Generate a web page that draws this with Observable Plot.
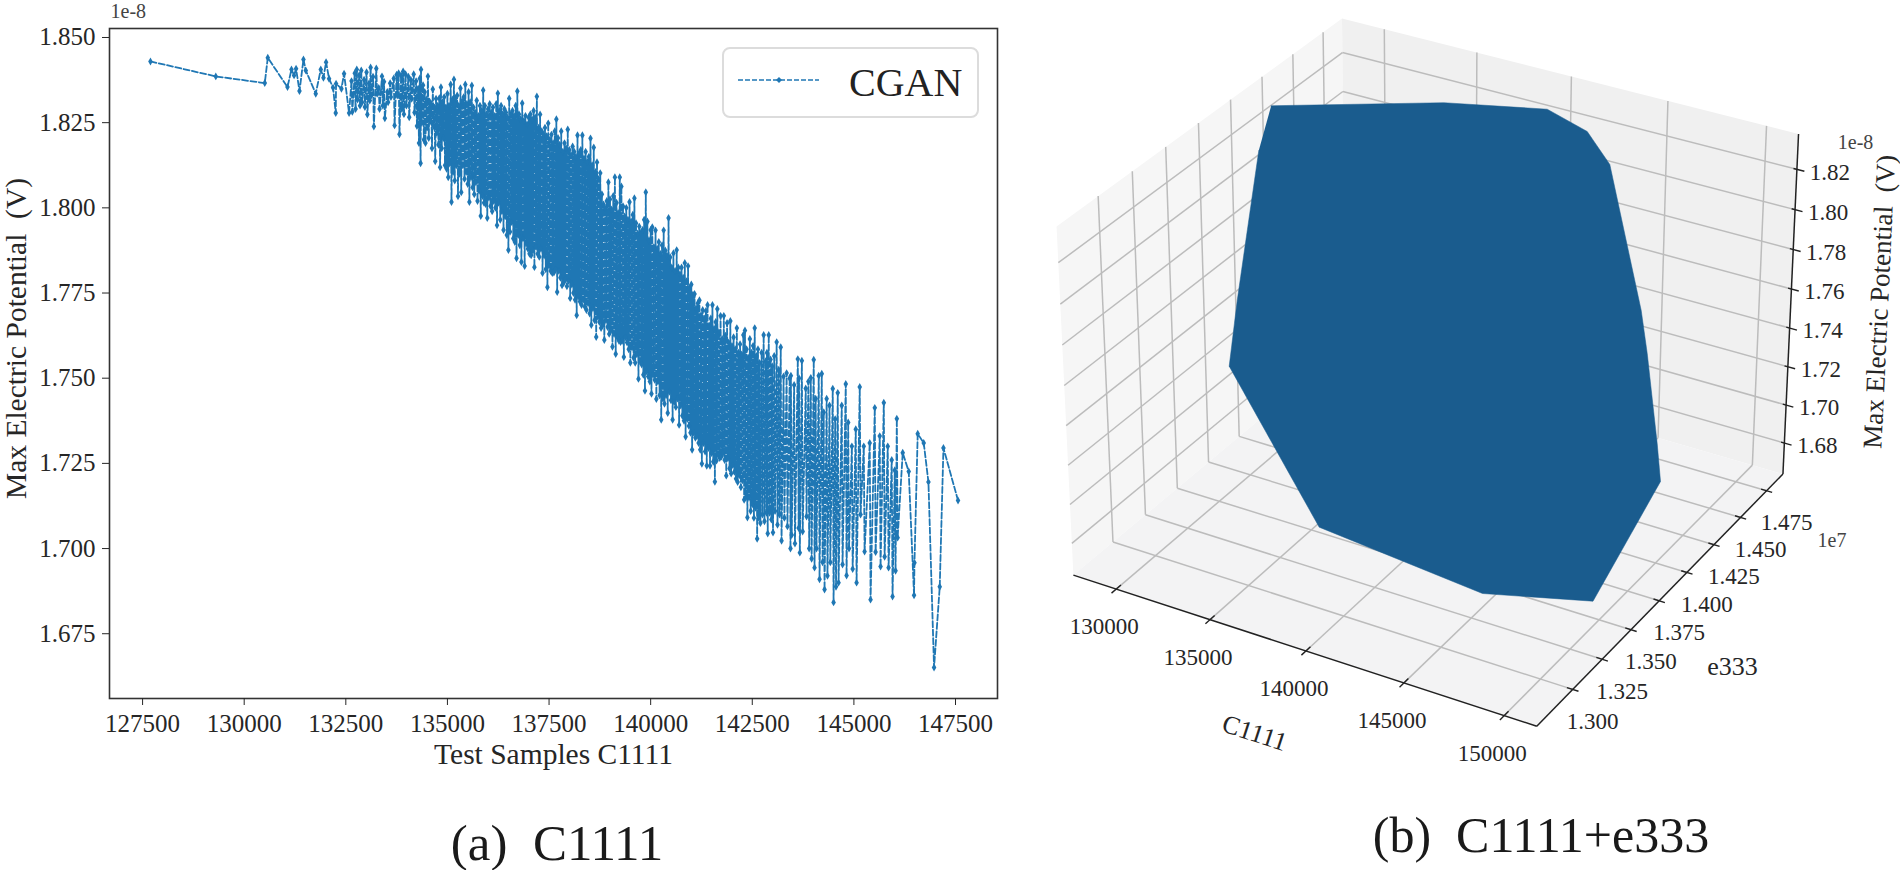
<!DOCTYPE html>
<html>
<head>
<meta charset="utf-8">
<script src="https://cdn.jsdelivr.net/npm/d3@7"></script>
<script src="https://cdn.jsdelivr.net/npm/@observablehq/plot@0.6"></script>
<style>
html,body{margin:0;padding:0;background:#fff;overflow:hidden}
#page{position:relative;width:1900px;height:870px;font-family:"Liberation Serif",serif;color:#1a1a1a}
.cap{position:absolute;transform:translate(-50%,-50%);white-space:pre;line-height:1}
#legend{position:absolute;left:722px;top:47px;width:253px;height:67px;border:2px solid #dcdcdc;border-radius:8px;background:#fff}
#legend svg{position:absolute;left:13px;top:24px}
#legend span{position:absolute;left:125px;top:9px;font-size:40px;line-height:1.25;color:#222}
</style>
</head>
<body>
<div id="page">
  <div id="legend"><svg width="84" height="14"><line x1="1" x2="82" y1="7" y2="7" stroke="#1f77b4" stroke-width="1.6" stroke-dasharray="5,2"/><path d="M39 7l3-3 3 3-3 3z" fill="#1f77b4"/></svg><span>CGAN</span></div>
  <div class="cap" style="left:557px;top:843px;font-size:51px">(a)  C1111</div>
  <div class="cap" style="left:1541px;top:835px;font-size:50px">(b)  C1111+e333</div>
</div>
<script>
// Panel (a): readings of the CGAN trace
const leadC = [127694,129301,130506,130580,131065,131163,131227,131276,131360,131458,131515,131760,131884,131950,132014,132088,132186,132252,132260,132392,132457,132580];
const leadV = [1.84297,1.83858,1.83662,1.84406,1.83545,1.84063,1.83887,1.84083,1.83428,1.84356,1.84034,1.83351,1.84063,1.8382,1.84277,1.83791,1.83527,1.82783,1.83644,1.83498,1.83937,1.82783];

const spikeC = [
132640,132720,132770,132830,132880,132950,133010,133070,133110,133170,
133250,133310,133390,133440,133520,133590,133680,133750,133800,133860,
133910,133970,134040,134100,134170,134230,134280,134320,134350,134400,
134440,134480,134520,134560,134600,134640,134680,134720,134760,134800,
134840,134880,134920,134960,135000,135040,135080,135120,135160,135200,
135240,135280,135320,135360,135400,135440,135480,135520,135560,135600,
135640,135680,135720,135760,135800,135840,135880,135920,135960,136000,
136040,136080,136120,136160,136200,136240,136280,136320,136360,136400,
136440,136480,136520,136560,136600,136640,136680,136720,136760,136800,
136840,136880,136920,136960,137000,137040,137080,137120,137160,137200,
137240,137280,137320,137360,137400,137440,137480,137520,137560,137600,
137640,137680,137720,137760,137800,137840,137880,137920,137960,138000,
138040,138080,138120,138160,138200,138240,138280,138320,138360,138400,
138440,138480,138520,138560,138600,138640,138680,138720,138760,138800,
138840,138880,138920,138960,139000,139040,139080,139120,139160,139200,
139240,139280,139320,139360,139400,139440,139480,139520,139560,139600,
139640,139680,139720,139760,139800,139840,139880,139920,139960,140000,
140040,140080,140120,140160,140200,140240,140280,140320,140360,140400,
140440,140480,140520,140560,140600,140640,140680,140720,140760,140800,
140840,140880,140920,140960,141000,141040,141080,141120,141160,141200,
141240,141280,141320,141360,141400,141440,141480,141520,141560,141600,
141640,141680,141720,141760,141800,141840,141880,141920,141960,142000,
142040,142080,142120,142160,142200,142240,142280,142320,142360,142400,
142440,142480,142520,142560,142600,142640,142680,142730,142780,142830,
142860,142905,142950,142990,143040,143100,143150,143200,143270,143345,
143420,143450,143530,143620,143650,143720,143815,143880,143940,144012,
144060,144135,144210,144258,144330,144400,144480,144540,144603,144701,
144800,144860,144950,145046,145144,145243,145390,145514,145636,145736,
145833,145931,146005,146056];

const spikeHigh = [
1.8372,1.8395,1.8406,1.8389,1.8403,1.8376,1.8398,1.8365,1.8412,1.8385,
1.8409,1.8352,1.8386,1.8370,1.8340,1.8366,1.8380,1.8391,1.8395,1.8388,
1.8400,1.8392,1.8385,1.8375,1.8392,1.8372,1.8350,1.8380,1.8406,1.8360,
1.8340,1.8318,1.8386,1.8312,1.8305,1.8348,1.8295,1.8320,1.8300,1.8322,
1.8354,1.8310,1.8325,1.8295,1.8335,1.8300,1.8362,1.8318,1.8377,1.8322,
1.8330,1.8300,1.8351,1.8312,1.8325,1.8362,1.8305,1.8340,1.8310,1.8359,
1.8295,1.8280,1.8315,1.8270,1.8300,1.8285,1.8345,1.8300,1.8275,1.8290,
1.8305,1.8280,1.8295,1.8270,1.8305,1.8336,1.8285,1.8300,1.8275,1.8290,
1.8280,1.8265,1.8321,1.8275,1.8285,1.8270,1.8300,1.8342,1.8275,1.8260,
1.8307,1.8255,1.8270,1.8245,1.8265,1.8275,1.8260,1.8285,1.8265,1.8327,
1.8235,1.8274,1.8225,1.8215,1.8235,1.8210,1.8248,1.8200,1.8215,1.8190,
1.8225,1.8260,1.8205,1.8185,1.8225,1.8165,1.8190,1.8175,1.8230,1.8170,
1.8155,1.8180,1.8165,1.8150,1.8213,1.8160,1.8170,1.8213,1.8145,1.8165,
1.8135,1.8150,1.8204,1.8125,1.8177,1.8105,1.8134,1.8085,1.8102,1.8040,
1.8010,1.7999,1.8020,1.8075,1.8025,1.7995,1.8035,1.8090,1.8015,1.7985,
1.8090,1.8063,1.8005,1.7975,1.8000,1.7965,1.8017,1.7960,1.7980,1.8028,
1.7955,1.7925,1.7945,1.7926,1.7935,1.7965,1.8046,1.7960,1.7905,1.7935,
1.7943,1.7885,1.7934,1.7880,1.7900,1.7865,1.7890,1.7934,1.7875,1.7860,
1.7970,1.7855,1.7825,1.7867,1.7815,1.7876,1.7825,1.7805,1.7825,1.7795,
1.7838,1.7785,1.7829,1.7765,1.7775,1.7745,1.7747,1.7705,1.7720,1.7729,
1.7685,1.7700,1.7675,1.7697,1.7715,1.7655,1.7675,1.7715,1.7645,1.7665,
1.7703,1.7635,1.7683,1.7615,1.7683,1.7625,1.7662,1.7605,1.7668,1.7595,
1.7620,1.7585,1.7647,1.7575,1.7600,1.7570,1.7627,1.7640,1.7585,1.7560,
1.7615,1.7575,1.7595,1.7647,1.7565,1.7585,1.7545,1.7575,1.7627,1.7550,
1.7575,1.7627,1.7555,1.7535,1.7565,1.7606,1.7525,1.7591,1.7505,1.7515,
1.7500,1.7507,1.7480,1.7556,1.7500,1.7551,1.7470,1.7490,1.7501,1.7554,
1.7440,1.7507,1.7513,1.7400,1.7440,1.7420,1.7469,1.7380,1.7457,1.7420,
1.7483,1.7370,1.7300,1.7350,1.7474,1.7300,1.7310,1.7413,1.7330,1.7428,
1.7300,1.7260,1.7230,1.7381];

const spikeLow = [
1.8282,1.8290,1.8318,1.8300,1.8310,1.8296,1.8274,1.8315,1.8330,1.8239,
1.8335,1.8290,1.8300,1.8263,1.8310,1.8325,1.8242,1.8330,1.8216,1.8290,
1.8275,1.8300,1.8266,1.8320,1.8280,1.8240,1.8190,1.8131,1.8250,1.8200,
1.8190,1.8235,1.8205,1.8255,1.8175,1.8240,1.8137,1.8220,1.8185,1.8119,
1.8175,1.8205,1.8125,1.8115,1.8090,1.8130,1.8017,1.8105,1.8080,1.8125,
1.8034,1.8100,1.8046,1.8125,1.8085,1.8105,1.8070,1.8017,1.8090,1.8060,
1.8040,1.8075,1.8020,1.8050,1.7976,1.8035,1.8015,1.8011,1.7970,1.8030,
1.8005,1.7990,1.8020,1.8000,1.7949,1.8015,1.7965,1.7990,1.7935,1.7975,
1.7920,1.7876,1.7930,1.7958,1.7910,1.7900,1.7852,1.7920,1.7890,1.7841,
1.7910,1.7829,1.7895,1.7880,1.7865,1.7861,1.7875,1.7826,1.7885,1.7865,
1.7856,1.7880,1.7809,1.7860,1.7820,1.7767,1.7830,1.7815,1.7809,1.7810,
1.7820,1.7753,1.7815,1.7795,1.7773,1.7780,1.7790,1.7770,1.7785,1.7735,
1.7775,1.7750,1.7730,1.7685,1.7740,1.7725,1.7715,1.7730,1.7710,1.7700,
1.7720,1.7690,1.7656,1.7705,1.7670,1.7621,1.7680,1.7665,1.7647,1.7655,
1.7612,1.7670,1.7650,1.7630,1.7640,1.7592,1.7630,1.7571,1.7620,1.7610,
1.7606,1.7610,1.7562,1.7620,1.7605,1.7585,1.7545,1.7590,1.7560,1.7545,
1.7570,1.7498,1.7550,1.7540,1.7510,1.7463,1.7520,1.7505,1.7490,1.7454,
1.7510,1.7495,1.7439,1.7490,1.7450,1.7378,1.7440,1.7425,1.7450,1.7398,
1.7460,1.7435,1.7378,1.7430,1.7415,1.7440,1.7363,1.7420,1.7390,1.7375,
1.7328,1.7380,1.7360,1.7340,1.7290,1.7340,1.7325,1.7330,1.7310,1.7290,
1.7249,1.7310,1.7285,1.7243,1.7295,1.7243,1.7280,1.7255,1.7196,1.7258,
1.7275,1.7266,1.7270,1.7280,1.7260,1.7214,1.7265,1.7235,1.7220,1.7245,
1.7225,1.7205,1.7195,1.7215,1.7180,1.7200,1.7143,1.7150,1.7091,1.7150,
1.7110,1.7130,1.7090,1.7120,1.7029,1.7090,1.7075,1.7100,1.7080,1.7105,
1.7044,1.7105,1.7085,1.7047,1.7110,1.7070,1.7100,1.7023,1.7090,1.7065,
1.7000,1.7040,1.7015,1.7060,1.6988,1.7050,1.7094,1.7000,1.6970,1.6944,
1.7000,1.6910,1.6960,1.6880,1.6920,1.6960,1.6842,1.6888,1.6900,1.6953,
1.6921,1.7000,1.6940,1.6900,1.7100,1.6991,1.6850,1.6990,1.6947,1.6976,
1.6944,1.6859,1.6935,1.7032];

const tailC = [146201,146349,146480,146490,146570,146718,146834,146972,147112,147203,147562];
const tailV = [1.7281,1.7226,1.6863,1.6958,1.7337,1.7310,1.7195,1.6651,1.6888,1.7295,1.7141];

const xTicksA = [127500,130000,132500,135000,137500,140000,142500,145000,147500];
const yTicksA = [1.850,1.825,1.800,1.775,1.750,1.725,1.700,1.675];

// Panel (b): axes of the 3-D view
const c1111Ticks = [130000,135000,140000,145000,150000];
const e333Ticks = [1.300,1.325,1.350,1.375,1.400,1.425,1.450,1.475];
const potentialTicks = [1.68,1.70,1.72,1.74,1.76,1.78,1.80,1.82];
// surface silhouette as seen in the view plane
const surfaceViewX = [-.03667,.00204,.02523,.03420,.03927,.04631,.04766,.04990,.05064,.03550,.01072,-.02590,-.04609,-.04429,-.03945];
const surfaceViewY = [.05606,.05675,.05529,.05028,.04287,.01007,.00040,-.01988,-.02835,-.05525,-.05352,-.03862,-.00245,.01231,.04601];

const serif = "Liberation Serif";
const ink = "#262626";
const blue = "#1f77b4";

// build the trace
const trace = [];
leadC.forEach((c,i)=>trace.push({c,v:leadV[i]}));
spikeC.forEach((c,i)=>{trace.push({c,v:spikeHigh[i]});trace.push({c:c+20,v:spikeLow[i]});});
tailC.forEach((c,i)=>trace.push({c,v:tailV[i]}));

const W_A = 1030, H = 870;
const plotA = Plot.plot({
  width:W_A,height:H,
  marginLeft:109,marginRight:W_A-997,marginTop:28,marginBottom:H-698,
  x:{domain:[126686,148533]},
  y:{domain:[1.65599,1.85264]},
  style:{background:"transparent",fontFamily:serif},
  marks:[
    Plot.frame({stroke:"#333",strokeWidth:1.6}),
    Plot.line(trace,{x:"c",y:"v",z:null,stroke:blue,strokeWidth:1.8,strokeDasharray:"6,2.5"}),
    Plot.dot(trace,{x:"c",y:"v",r:2.4,symbol:"diamond",fill:blue,stroke:"none"}),
    Plot.axisX(xTicksA,{anchor:"bottom",tickSize:7,tickPadding:9,fontSize:25,label:null,tickFormat:d=>String(d),fill:ink,stroke:ink}),
    Plot.axisY(yTicksA,{anchor:"left",tickSize:7,tickPadding:7,fontSize:25,label:null,tickFormat:d=>d.toFixed(3),fill:ink,stroke:ink}),
    Plot.text(["Test Samples C1111"],{frameAnchor:"bottom",lineAnchor:"middle",dy:56,fontSize:29.5,fill:ink}),
    Plot.text(["Max Electric Potential \u00a0(V)"],{frameAnchor:"left",textAnchor:"middle",lineAnchor:"middle",dx:-93,dy:-25,rotate:-90,fontSize:29.5,fill:ink}),
    Plot.text(["1e-8"],{frameAnchor:"top-left",lineAnchor:"middle",dy:-17,dx:1,textAnchor:"start",fontSize:20,fill:"#444"})
  ]
});
plotA.style.cssText+=";position:absolute;left:0;top:0;background:transparent";

// ---- 3-D view (elevation 30, azimuth -60, distance 10) ----
const domC=[127680,151600], domE=[1.2702,1.4909], domV=[1.6635,1.8374];
const boxXY=1.1905, boxZ=.8929, dist=10;
const el=30*Math.PI/180, az=-60*Math.PI/180;
const w=[Math.cos(el)*Math.cos(az),Math.cos(el)*Math.sin(az),Math.sin(el)];
const uN=Math.hypot(w[1],w[0]);
const u=[-w[1]/uN,w[0]/uN,0];
const v=[w[1]*u[2]-w[2]*u[1],w[2]*u[0]-w[0]*u[2],w[0]*u[1]-w[1]*u[0]];
const dot3=(p,q)=>p[0]*q[0]+p[1]*q[1]+p[2]*q[2];
function view(c,e,p){
  const r=[((c-domC[0])/(domC[1]-domC[0])-.5)*boxXY,((e-domE[0])/(domE[1]-domE[0])-.5)*boxXY,((p-domV[0])/(domV[1]-domV[0])-.5)*boxZ];
  const den=dist-dot3(w,r);
  return [dot3(u,r)/den,dot3(v,r)/den];
}
const seg=(a,b,extra={})=>{const A=view(...a),B=view(...b);return {x1:A[0],y1:A[1],x2:B[0],y2:B[1],...extra};};
const poly=(pts)=>pts.map(p=>{const q=view(...p);return {x:q[0],y:q[1]};});
const [C0,C1]=domC,[E0,E1]=domE,[V0,V1]=domV;

const paneLeft=poly([[C0,E0,V0],[C0,E0,V1],[C0,E1,V1],[C0,E1,V0]]);
const paneBack=poly([[C0,E1,V0],[C0,E1,V1],[C1,E1,V1],[C1,E1,V0]]);
const paneFloor=poly([[C0,E0,V0],[C1,E0,V0],[C1,E1,V0],[C0,E1,V0]]);

const grid=[];
c1111Ticks.forEach(t=>{grid.push(seg([t,E0,V0],[t,E1,V0]));grid.push(seg([t,E1,V0],[t,E1,V1]));});
e333Ticks.forEach(t=>{grid.push(seg([C0,t,V0],[C1,t,V0]));grid.push(seg([C0,t,V0],[C0,t,V1]));});
potentialTicks.forEach(t=>{grid.push(seg([C0,E0,t],[C0,E1,t]));grid.push(seg([C0,E1,t],[C1,E1,t]));});

const spines=[seg([C0,E0,V0],[C1,E0,V0]),seg([C1,E0,V0],[C1,E1,V0]),seg([C1,E1,V0],[C1,E1,V1])];
const dE=(E1-E0)*.016, dC=(C1-C0)*.012;
const tickMarks=[
  ...c1111Ticks.map(t=>seg([t,E0-dE,V0],[t,E0+dE,V0])),
  ...e333Ticks.map(t=>seg([C1-dC,t,V0],[C1+dC,t,V0])),
  ...potentialTicks.map(t=>seg([C1-dC*.6,E1,t],[C1+dC*1.3,E1,t]))
];
const labelC=c1111Ticks.map(t=>{const q=view(t,E0,V0);return {x:q[0],y:q[1],t:String(t)};});
const labelE=e333Ticks.map(t=>{const q=view(C1,t,V0);return {x:q[0],y:q[1],t:t.toFixed(3)};});
const labelV=potentialTicks.map(t=>{const q=view(C1,E1,t);return {x:q[0],y:q[1],t:t.toFixed(2)};});
const surface=surfaceViewX.map((x,i)=>({x,y:surfaceViewY[i]}));

// anchors for the axis names, in C1111/e333/V terms
const anchorC=view(C0+(C1-C0)*.43,E0,V0);
const anchorE=view(C1,E0+(E1-E0)*.4,V0);
const anchorExp=view(C1,E1,V0);
const anchorTop=view(C1,E1,V1);
const anchorMid=view(C1,E1,V0+(V1-V0)*.5);

const W_B=870;
const plotB=Plot.plot({
  width:W_B,height:H,margin:0,
  x:{axis:null,domain:[-.09065,.10446],range:[0,W_B]},
  y:{axis:null,domain:[.07971,-.11575],range:[0,H]},
  style:{background:"transparent",fontFamily:serif},
  marks:[
    Plot.line(paneLeft,{x:"x",y:"y",z:null,fill:"#f6f6f6",stroke:"none"}),
    Plot.line(paneBack,{x:"x",y:"y",z:null,fill:"#f0f0f0",stroke:"none"}),
    Plot.line(paneFloor,{x:"x",y:"y",z:null,fill:"#f3f3f4",stroke:"none"}),
    Plot.link(grid,{x1:"x1",y1:"y1",x2:"x2",y2:"y2",stroke:"#bcbcbc",strokeWidth:1.5}),
    Plot.line(surface,{x:"x",y:"y",z:null,fill:"#1a5c8e",stroke:"#1a5c8e",strokeWidth:.5}),
    Plot.link(spines,{x1:"x1",y1:"y1",x2:"x2",y2:"y2",stroke:"#222",strokeWidth:1.5}),
    Plot.link(tickMarks,{x1:"x1",y1:"y1",x2:"x2",y2:"y2",stroke:"#222",strokeWidth:1.4}),
    Plot.text(labelC,{x:"x",y:"y",text:"t",dx:-12,dy:38,fontSize:23,fill:ink}),
    Plot.text(labelE,{x:"x",y:"y",text:"t",dx:20,dy:32,fontSize:23,fill:ink}),
    Plot.text(labelV,{x:"x",y:"y",text:"t",dx:33,dy:3,fontSize:23,fill:ink}),
    Plot.text(["C1111"],{x:()=>anchorC[0],y:()=>anchorC[1],dx:-12,dy:95,rotate:18,fontSize:26,fill:ink}),
    Plot.text(["e333"],{x:()=>anchorE[0],y:()=>anchorE[1],dx:92,dy:47,fontSize:26,fill:ink}),
    Plot.text(["1e7"],{x:()=>anchorExp[0],y:()=>anchorExp[1],dx:49,dy:67,fontSize:20,fill:"#444"}),
    Plot.text(["1e-8"],{x:()=>anchorTop[0],y:()=>anchorTop[1],dx:57,dy:9,fontSize:20,fill:"#444"}),
    Plot.text(["Max Electric Potential \u00a0(V)"],{x:()=>anchorMid[0],y:()=>anchorMid[1],dx:89,dy:-6,rotate:-87.3,fontSize:27,fill:ink})
  ]
});
plotB.style.cssText+=";position:absolute;left:1030px;top:0;background:transparent";

const page=document.getElementById("page");
page.insertBefore(plotB,page.firstChild);
page.insertBefore(plotA,page.firstChild);
</script>
</body>
</html>
